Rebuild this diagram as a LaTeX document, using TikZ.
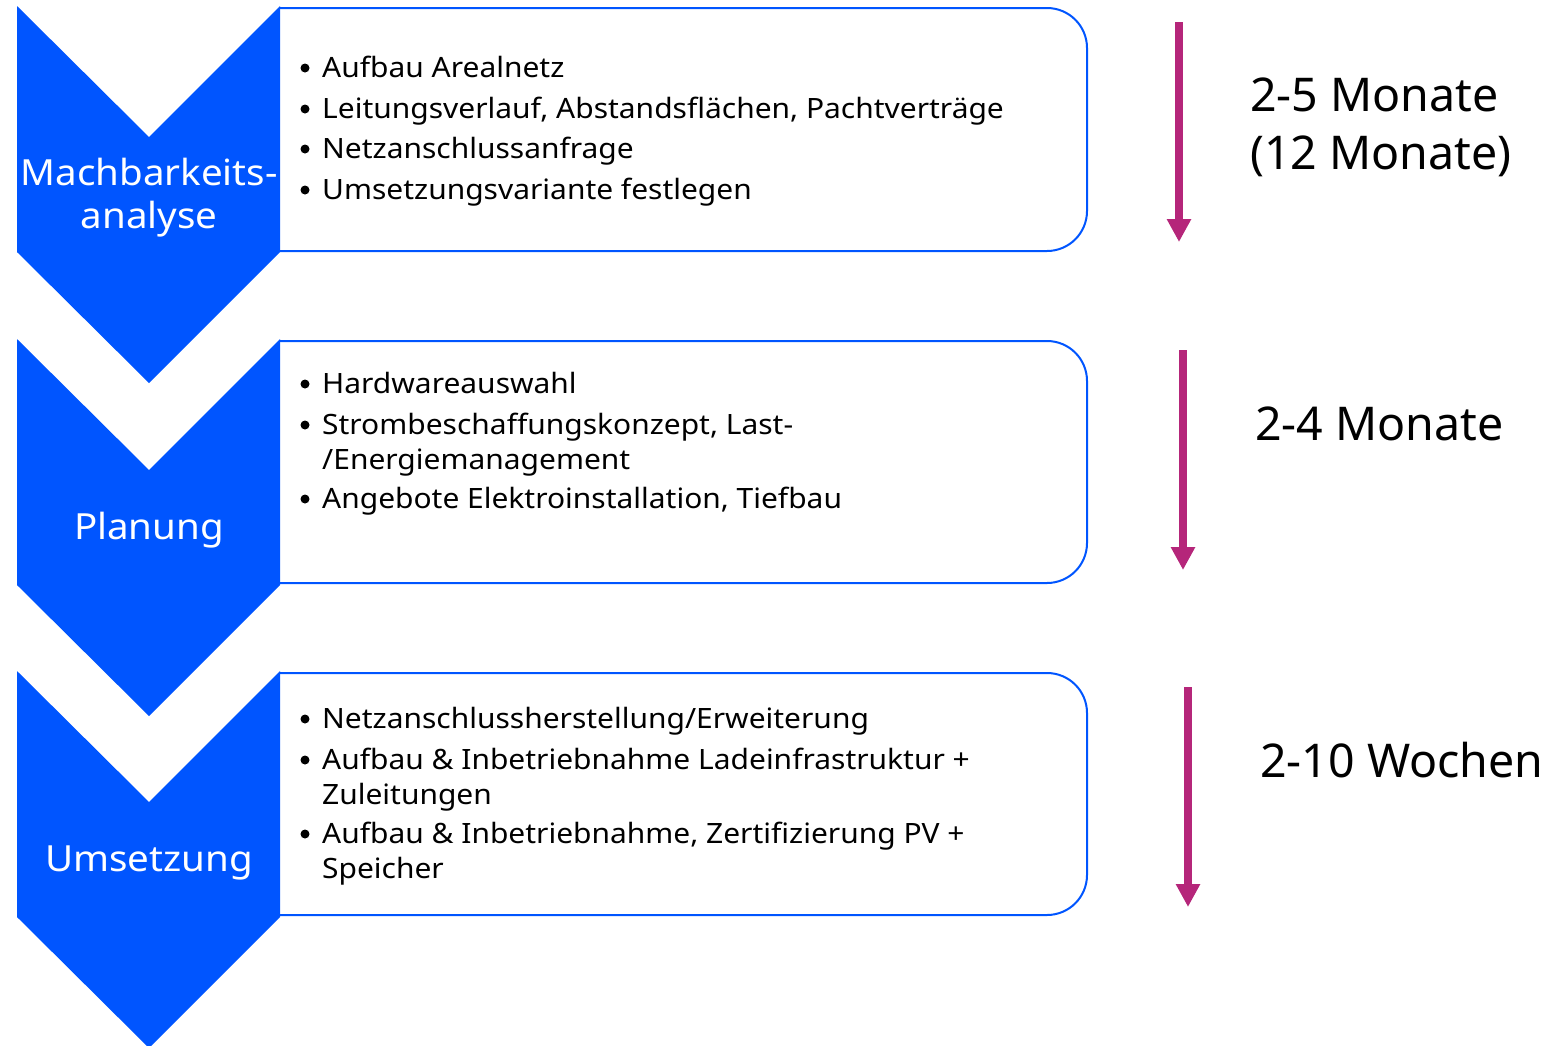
\documentclass[tikz,border=0pt]{standalone}
\usepackage{fontspec}
\setmainfont{Noto Sans}
\newfontfamily\widefont{Noto Sans}[FakeStretch=1.07]
\usetikzlibrary{arrows.meta}
\definecolor{eblue}{RGB}{0,85,255}
\definecolor{emag}{RGB}{181,38,122}
\begin{document}
\begin{tikzpicture}[x=1pt,y=-1pt,
  chev/.style={fill=eblue,draw=none},
  boxline/.style={draw=eblue,line width=2pt},
  bul/.style={circle,fill=black,inner sep=0pt,minimum size=9pt},
  itm/.style={anchor=base west,inner sep=0pt,align=left,font=\widefont\fontsize{28}{35}\selectfont},
  lab/.style={text=white,align=center,inner sep=0pt,font=\widefont\fontsize{36}{43}\selectfont},
  dur/.style={anchor=base west,inner sep=0pt,align=left,font=\fontsize{46.5}{58}\selectfont},
  timearrow/.style={draw=emag,line width=8pt,-{Triangle[width=23pt,length=23pt]}}]
\useasboundingbox (0,0) rectangle (1560,1045);
% boxes
\foreach \t/\b in {8/251,341/583,673/915}{
  \draw[boxline] (280,\t) -- (1047,\t) arc(270:360:40) -- (1087,\b-40) arc(0:90:40) -- (280,\b);
}
% chevrons
\foreach \t in {6,339,671}{
  \fill[chev] (17,\t) -- (149,\t+131) -- (280,\t) -- (280,\t+246) -- (149,\t+377) -- (17,\t+246) -- cycle;
}
% labels
\node[lab] (l1) at (149,198) {Machbarkeits-\\analyse};
\node[lab] (l2) at (149,530) {Planung};
\node[lab] (l3) at (149,863) {Umsetzung};
% box 1
\node[bul] (b1a) at (305,68) {};
\node[itm] (t1a) at (322,77) {Aufbau Arealnetz};
\node[bul] (b1b) at (305,109) {};
\node[itm] (t1b) at (322,118) {Leitungsverlauf, Abstandsflächen, Pachtverträge};
\node[bul] (b1c) at (305,149) {};
\node[itm] (t1c) at (322,158) {Netzanschlussanfrage};
\node[bul] (b1d) at (305,190) {};
\node[itm] (t1d) at (322,199) {Umsetzungsvariante festlegen};
% box 2
\node[bul] (b2a) at (305,384) {};
\node[itm] (t2a) at (322,393) {Hardwareauswahl};
\node[bul] (b2b) at (305,425) {};
\node[itm] (t2b) at (322,469) {Strombeschaffungskonzept, Last-\\/Energiemanagement};
\node[bul] (b2c) at (305,499) {};
\node[itm] (t2c) at (322,508) {Angebote Elektroinstallation, Tiefbau};
% box 3
\node[bul] (b3a) at (305,719) {};
\node[itm] (t3a) at (322,728) {Netzanschlussherstellung/Erweiterung};
\node[bul] (b3b) at (305,760) {};
\node[itm] (t3b) at (322,804) {Aufbau \& Inbetriebnahme Ladeinfrastruktur +\\Zuleitungen};
\node[bul] (b3c) at (305,834) {};
\node[itm] (t3c) at (322,878) {Aufbau \& Inbetriebnahme, Zertifizierung PV +\\Speicher};
% time arrows
\coordinate (a1s) at (1179,22); \coordinate (a1e) at (1179,242);
\coordinate (a2s) at (1183,350); \coordinate (a2e) at (1183,570);
\coordinate (a3s) at (1188,687); \coordinate (a3e) at (1188,907);
\draw[timearrow] (a1s) -- (a1e);
\draw[timearrow] (a2s) -- (a2e);
\draw[timearrow] (a3s) -- (a3e);
\node[dur] (d1) at (1250,169) {2-5 Monate\\(12 Monate)};
\node[dur] (d2) at (1255,440) {2-4 Monate};
\node[dur] (d3) at (1260,777) {2-10 Wochen};
\end{tikzpicture}
\end{document}
